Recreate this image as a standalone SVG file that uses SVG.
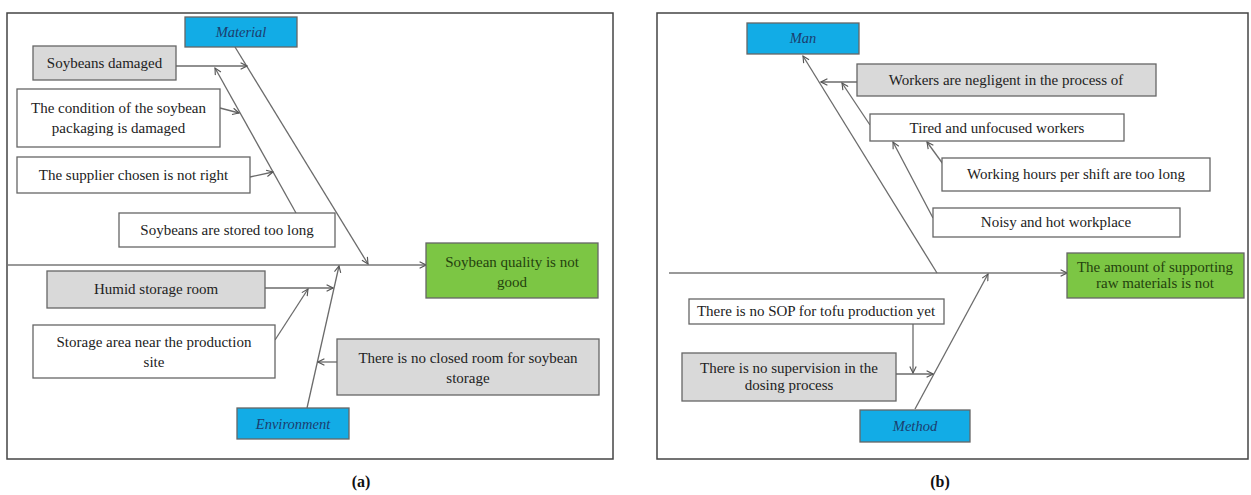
<svg xmlns="http://www.w3.org/2000/svg" width="1251" height="495" viewBox="0 0 1251 495">
  <style>
    .frame { fill: #ffffff; stroke: #444444; stroke-width: 1.5; }
    .box { stroke: #666666; stroke-width: 1.3; }
    .white { fill: #ffffff; }
    .gray { fill: #d9d9d9; }
    .blue { fill: #12ace6; }
    .green { fill: #7cc644; }
    .t { font-family: "Liberation Serif", "Times New Roman", serif; font-size: 15px; fill: #222222; text-anchor: middle; dominant-baseline: central; }
    .cat { font-style: italic; fill: #1c3d6e; font-size: 14.5px; }
    .eff { fill: #24420e; }
    .small { font-size: 15px; }
    .cap { font-family: "Liberation Serif", "Times New Roman", serif; font-size: 16px; font-weight: bold; fill: #111111; text-anchor: middle; }
    .ln { stroke: #6b6b6b; stroke-width: 1.3; fill: none; marker-end: url(#arr); }
    .spine { stroke: #777777; stroke-width: 1.3; fill: none; marker-end: url(#arr); }
  </style>
  <defs>
    <marker id="arr" viewBox="0 0 10 10" refX="9" refY="5" markerWidth="8" markerHeight="8" markerUnits="userSpaceOnUse" orient="auto">
      <path d="M1,1 L9,5 L1,9" fill="none" stroke="#555555" stroke-width="1.4"/>
    </marker>
  </defs>

  <!-- panel frames -->
  <rect class="frame" x="7" y="13" width="606" height="446"/>
  <rect class="frame" x="657" y="13" width="591" height="446"/>

  <!-- connectors -->
  <g id="connectors">
    <!-- (a) -->
    <line class="spine" x1="8" y1="265" x2="426" y2="265"/>
    <line class="ln" x1="235" y1="47" x2="368" y2="264"/>
    <line class="ln" x1="176" y1="66" x2="247" y2="66"/>
    <line class="ln" x1="296" y1="213" x2="215" y2="68"/>
    <line class="ln" x1="220" y1="108" x2="239" y2="113"/>
    <line class="ln" x1="250" y1="177" x2="273" y2="172"/>
    <line class="ln" x1="307" y1="408" x2="339" y2="266"/>
    <line class="ln" x1="265" y1="288" x2="333" y2="288"/>
    <line class="ln" x1="275" y1="340" x2="308" y2="289"/>
    <line class="ln" x1="337" y1="362" x2="318" y2="362"/>
    <!-- (b) -->
    <line class="spine" x1="669" y1="273" x2="1067" y2="273"/>
    <line class="ln" x1="937" y1="273" x2="803" y2="56"/>
    <line class="ln" x1="857" y1="82" x2="821" y2="82"/>
    <line class="ln" x1="870" y1="125" x2="842" y2="83"/>
    <line class="ln" x1="943" y1="164" x2="927" y2="142"/>
    <line class="ln" x1="933" y1="218" x2="893" y2="142"/>
    <line class="ln" x1="915" y1="409" x2="988" y2="274"/>
    <line class="ln" x1="896" y1="374" x2="933" y2="374"/>
    <line class="ln" x1="913" y1="324" x2="913" y2="373"/>
  </g>

  <!-- (a) nodes -->
  <g id="a-material">
    <rect class="box blue" x="185" y="17" width="112" height="30"/>
    <text class="t cat" x="241" y="32">Material</text>
  </g>
  <g id="a-damaged">
    <rect class="box gray" x="33" y="46" width="143" height="34"/>
    <text class="t" x="104.5" y="63">Soybeans damaged</text>
  </g>
  <g id="a-packaging">
    <rect class="box white" x="17" y="89" width="203" height="58"/>
    <text class="t" x="118.5" y="108">The condition of the soybean</text>
    <text class="t" x="118.5" y="128">packaging is damaged</text>
  </g>
  <g id="a-supplier">
    <rect class="box white" x="17" y="157" width="233" height="36"/>
    <text class="t" x="133.5" y="175">The supplier chosen is not right</text>
  </g>
  <g id="a-stored">
    <rect class="box white" x="119" y="213" width="216" height="34"/>
    <text class="t" x="227" y="230">Soybeans are stored too long</text>
  </g>
  <g id="a-effect">
    <rect class="box green" x="426" y="243" width="172" height="55"/>
    <text class="t eff" x="512" y="262">Soybean quality is not</text>
    <text class="t eff" x="512" y="282">good</text>
  </g>
  <g id="a-humid">
    <rect class="box gray" x="47" y="271" width="218" height="37"/>
    <text class="t" x="156" y="289">Humid storage room</text>
  </g>
  <g id="a-near">
    <rect class="box white" x="33" y="325" width="242" height="53"/>
    <text class="t" x="154" y="342">Storage area near the production</text>
    <text class="t" x="154" y="362">site</text>
  </g>
  <g id="a-closed">
    <rect class="box gray" x="337" y="339" width="262" height="56"/>
    <text class="t" x="468" y="358">There is no closed room for soybean</text>
    <text class="t" x="468" y="378">storage</text>
  </g>
  <g id="a-environment">
    <rect class="box blue" x="237" y="408" width="112" height="31"/>
    <text class="t cat" x="293" y="424">Environment</text>
  </g>

  <!-- (b) nodes -->
  <g id="b-man">
    <rect class="box blue" x="747" y="23" width="112" height="31"/>
    <text class="t cat" x="803" y="38">Man</text>
  </g>
  <g id="b-negligent">
    <rect class="box gray" x="857" y="64" width="299" height="32"/>
    <text class="t small" x="1006" y="80">Workers are negligent in the process of</text>
  </g>
  <g id="b-tired">
    <rect class="box white" x="870" y="114" width="254" height="27"/>
    <text class="t small" x="997" y="128">Tired and unfocused workers</text>
  </g>
  <g id="b-hours">
    <rect class="box white" x="942" y="158" width="268" height="33"/>
    <text class="t small" x="1076" y="174">Working hours per shift are too long</text>
  </g>
  <g id="b-noisy">
    <rect class="box white" x="933" y="208" width="247" height="29"/>
    <text class="t small" x="1056" y="222">Noisy and hot workplace</text>
  </g>
  <g id="b-effect">
    <rect class="box green" x="1067" y="253" width="177" height="45"/>
    <text class="t eff small" x="1155" y="267">The amount of supporting</text>
    <text class="t eff small" x="1155" y="283">raw materials is not</text>
  </g>
  <g id="b-sop">
    <rect class="box white" x="689" y="299" width="255" height="25"/>
    <text class="t small" x="816" y="311">There is no SOP for tofu production yet</text>
  </g>
  <g id="b-supervision">
    <rect class="box gray" x="682" y="353" width="214" height="48"/>
    <text class="t small" x="789" y="368">There is no supervision in the</text>
    <text class="t small" x="789" y="385">dosing process</text>
  </g>
  <g id="b-method">
    <rect class="box blue" x="860" y="410" width="110" height="32"/>
    <text class="t cat" x="915" y="426">Method</text>
  </g>

  <!-- captions -->
  <text class="cap" x="361" y="487">(a)</text>
  <text class="cap" x="940" y="487">(b)</text>
</svg>
